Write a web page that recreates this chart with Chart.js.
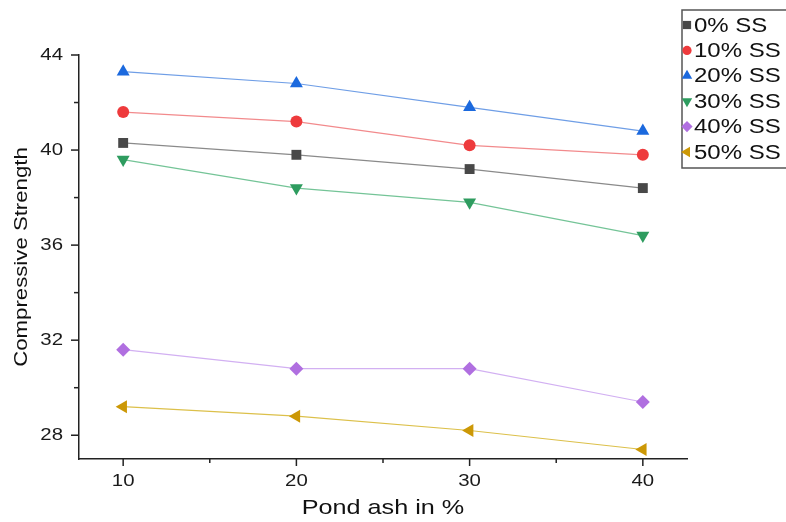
<!DOCTYPE html>
<html><head><meta charset="utf-8">
<script src="https://cdn.jsdelivr.net/npm/chart.js@4/dist/chart.umd.min.js"></script>
<style>html,body{margin:0;padding:0;background:#fff;}#wrap{width:786px;height:522px;position:relative}</style>
</head><body><div id="wrap"><canvas id="c" width="786" height="522"></canvas></div>
<script>
const pondAsh = [10, 20, 30, 40];
const seriesLabels = ['0% SS', '10% SS', '20% SS', '30% SS', '40% SS', '50% SS'];
const ss0 = [40.3, 39.8, 39.2, 38.4];
const ss10 = [41.6, 41.2, 40.2, 39.8];
const ss20 = [43.3, 42.8, 41.8, 40.8];
const ss30 = [39.6, 38.4, 37.8, 36.4];
const ss40 = [31.6, 30.8, 30.8, 29.4];
const ss50 = [29.2, 28.8, 28.2, 27.4];
const yMajorTicks = [28, 32, 36, 40, 44];
const yMinorTicks = [30, 34, 38, 42];
const xMajorTicks = [10, 20, 30, 40];
const xMinorTicks = [15, 25, 35];
const xTitle = 'Pond ash in %';
const yTitle = 'Compressive Strength';

const seriesValues = [ss0, ss10, ss20, ss30, ss40, ss50];
const markerColors = ['#484848', '#ee3a3c', '#1b69de', '#2e9c5f', '#b06fe0', '#cc9806'];
const lineColors = ['#8a8a8a', '#f28a8c', '#6f9ee6', '#74c497', '#d2b0f2', '#dcc04a'];
const pointStyles = ['rect', 'circle', 'triangle', 'triangle', 'rectRot', 'triangle'];
const pointRotations = [0, 0, 0, 180, 0, 270];
const pointRadii = [7, 6, 7.5, 7.5, 7, 7.5];
const legendRadii = [5.8, 4.6, 6, 6, 5.6, 6];

const FONT = '"Liberation Sans", Arial, sans-serif';
const TEXT_STRETCH = 1.2;

const canvas = document.getElementById('c');
const ctx0 = canvas.getContext('2d');
const origFillText = ctx0.fillText.bind(ctx0);
ctx0.fillText = function (t, x, y) {
  this.save();
  this.translate(x, y);
  this.scale(TEXT_STRETCH, 1);
  origFillText(t, 0, 0);
  this.restore();
};

function drawMarker(ctx, style, rot, r, x, y, color) {
  ctx.save();
  ctx.translate(x, y);
  ctx.rotate(rot * Math.PI / 180);
  ctx.fillStyle = color;
  ctx.beginPath();
  if (style === 'rect') {
    const s = r * Math.SQRT1_2;
    ctx.rect(-s, -s, 2 * s, 2 * s);
  } else if (style === 'circle') {
    ctx.arc(0, 0, r, 0, Math.PI * 2);
  } else if (style === 'triangle') {
    for (let k = 0; k < 3; k++) {
      const a = k * 2 * Math.PI / 3;
      const px = Math.sin(a) * r, py = -Math.cos(a) * r;
      if (k === 0) ctx.moveTo(px, py); else ctx.lineTo(px, py);
    }
    ctx.closePath();
  } else if (style === 'rectRot') {
    ctx.moveTo(0, -r); ctx.lineTo(r, 0); ctx.lineTo(0, r); ctx.lineTo(-r, 0); ctx.closePath();
  }
  ctx.fill();
  ctx.restore();
}

const tickMarksPlugin = {
  id: 'tickMarks',
  afterDraw(chart) {
    const ctx = chart.ctx;
    const xs = chart.scales.x, ys = chart.scales.y;
    const area = chart.chartArea;
    ctx.save();
    ctx.strokeStyle = '#222';
    ctx.lineWidth = 1.5;
    const seg = (x1, y1, x2, y2) => { ctx.beginPath(); ctx.moveTo(x1, y1); ctx.lineTo(x2, y2); ctx.stroke(); };
    xMajorTicks.forEach(v => { const p = xs.getPixelForValue(v); seg(p, area.bottom, p, area.bottom + 7); });
    xMinorTicks.forEach(v => { const p = xs.getPixelForValue(v); seg(p, area.bottom, p, area.bottom + 4); });
    yMajorTicks.forEach(v => { const p = ys.getPixelForValue(v); seg(area.left, p, area.left - 8, p); });
    yMinorTicks.forEach(v => { const p = ys.getPixelForValue(v); seg(area.left, p, area.left - 5, p); });
    ctx.restore();
  }
};

const legendPlugin = {
  id: 'boxLegend',
  afterDraw(chart) {
    const ctx = chart.ctx;
    ctx.save();
    ctx.strokeStyle = '#555';
    ctx.lineWidth = 1.5;
    ctx.strokeRect(682, 10, 130, 158);
    ctx.font = '20px ' + FONT;
    ctx.fillStyle = '#111';
    ctx.textBaseline = 'middle';
    ctx.textAlign = 'left';
    seriesLabels.forEach((lab, i) => {
      const y = 25 + i * 25.4;
      drawMarker(ctx, pointStyles[i], pointRotations[i], legendRadii[i], 687, y, markerColors[i]);
      ctx.fillText(lab, 694, y + 1);
    });
    ctx.restore();
  }
};

const datasets = seriesLabels.map((lab, i) => ({
  label: lab,
  data: pondAsh.map((x, j) => ({ x: x, y: seriesValues[i][j] })),
  borderColor: lineColors[i],
  backgroundColor: markerColors[i],
  pointBackgroundColor: markerColors[i],
  pointBorderWidth: 0,
  pointStyle: pointStyles[i],
  pointRotation: pointRotations[i],
  pointRadius: pointRadii[i],
  pointHoverRadius: pointRadii[i],
  borderWidth: 1.2,
  tension: 0,
  clip: false
}));

new Chart(canvas, {
  type: 'line',
  data: { datasets },
  plugins: [tickMarksPlugin, legendPlugin],
  options: {
    responsive: false,
    animation: false,
    devicePixelRatio: 1,
    events: [],
    layout: { padding: { top: 55, right: 99, left: 0, bottom: 0 } },
    plugins: { legend: { display: false }, tooltip: { enabled: false } },
    scales: {
      x: {
        type: 'linear',
        min: 7.45, max: 42.55,
        afterBuildTicks: s => { s.ticks = xMajorTicks.map(v => ({ value: v })); },
        afterFit: s => { s.height = 63; },
        grid: { display: false, drawTicks: false, tickLength: 0 },
        border: { display: true, color: '#222', width: 1.5 },
        ticks: { font: { family: FONT, size: 17 }, color: '#1a1a1a', padding: 12, maxRotation: 0 },
        title: { display: true, text: xTitle, font: { family: FONT, size: 21 }, color: '#111', padding: { top: 0, bottom: 1 } }
      },
      y: {
        type: 'linear',
        min: 27, max: 44,
        afterBuildTicks: s => { s.ticks = yMajorTicks.map(v => ({ value: v })); },
        afterFit: s => { s.width = 79; },
        grid: { display: false, drawTicks: false, tickLength: 0 },
        border: { display: true, color: '#222', width: 1.5 },
        ticks: { font: { family: FONT, size: 17 }, color: '#1a1a1a', padding: 16 },
        title: { display: true, text: yTitle, font: { family: FONT, size: 18.5 }, color: '#111', padding: { top: 11, bottom: 0 } }
      }
    }
  }
});
</script></body></html>
